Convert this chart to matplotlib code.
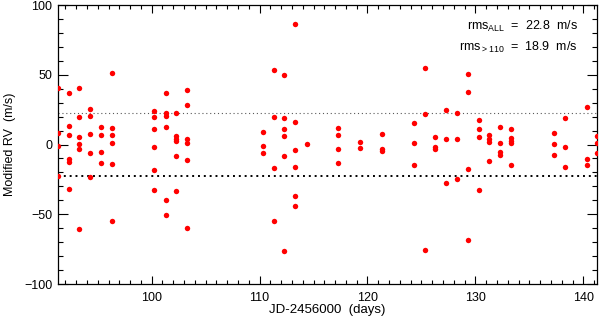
import matplotlib
matplotlib.use("Agg")
import matplotlib.pyplot as plt
from matplotlib.ticker import MultipleLocator

plt.rcParams['font.family'] = ['Liberation Sans', 'DejaVu Sans']

# nights (JD-2456000) and modified RV values (m/s)
nights = [91.35, 92.3, 93.3, 94.3, 95.3, 96.3, 100.2, 101.3, 102.3, 103.3,
          110.3, 111.3, 112.3, 113.3, 114.35, 117.3, 119.3, 121.3, 124.3, 125.3,
          126.3, 127.3, 128.3, 129.3, 130.3, 131.3, 132.3, 133.3, 137.3, 138.3,
          140.3, 141.3]
rv_per_night = [
    [40.3, 8.5, -0.9, -22.3],
    [36.7, 13.5, 6.6, -10.2, -12.8, -31.7],
    [40.5, 19.5, 5.6, 0.6, -3.5, -60.6],
    [25.7, 20.7, 7.5, -6.3, -23.1],
    [12.8, 6.8, -5.4, -13.3],
    [51.0, 11.8, 6.8, 1.3, -14.2, -54.6],
    [24.2, 19.9, 10.9, -2.0, -18.0, -32.4],
    [36.7, 22.4, 20.4, 12.5, -39.6, -50.5],
    [22.8, 6.1, 4.2, 2.5, -8.0, -33.3],
    [39.1, 28.1, 3.7, 1.3, -11.1, -59.6],
    [8.7, -1.3, -6.3],
    [53.6, 19.5, -16.8, -54.8],
    [50.1, 19.2, 11.1, 6.3, -8.0, -76.3],
    [86.6, 16.1, -3.9, -15.9, -36.9, -44.1],
    [0.6],
    [11.8, 6.8, -3.2, -13.5],
    [1.8, -2.3],
    [7.7, -3.0, -4.7],
    [15.2, 1.1, -14.7],
    [54.8, 21.9, -75.6],
    [5.6, -1.6, -3.2],
    [24.7, 3.7, -27.4],
    [22.4, 3.7, -25.0],
    [50.8, 37.6, -17.8, -68.7],
    [17.6, 11.3, 5.4, -32.8],
    [7.0, 4.2, 2.0, -11.8],
    [12.8, 1.3, -5.4, -7.3],
    [11.1, 4.7, 2.3, 0.9, -14.7],
    [8.2, 0.6, -7.7],
    [19.0, -1.6, -16.3],
    [26.7, -10.6, -14.4],
    [6.1, 0.9, -5.9],
]
rms_all = 22.8
rms_late = 18.9

t = [n for n, vals in zip(nights, rv_per_night) for _ in vals]
rv = [v for vals in rv_per_night for v in vals]

fig = plt.figure(figsize=(6.0, 3.19), dpi=100)
ax = fig.add_axes([0.0967, 0.1097, 0.8983, 0.8743])

ax.plot(t, rv, 'o', color='#ff0000', markersize=3.9, markeredgewidth=0, zorder=3)

ax.axhline(rms_all, color='0.35', linestyle=(0, (1, 2.5)), linewidth=0.8, zorder=2)
ax.axhline(-rms_all, color='black', linestyle=(0, (1, 2)), linewidth=1.4, zorder=2)

ax.set_xlim(91.32, 141.27)
ax.set_ylim(-100, 100)
ax.xaxis.set_major_locator(MultipleLocator(10))
ax.xaxis.set_minor_locator(MultipleLocator(1))
ax.yaxis.set_major_locator(MultipleLocator(50))
ax.yaxis.set_minor_locator(MultipleLocator(10))
ax.tick_params(which='both', direction='in', top=True, right=True, labelsize=9, width=0.8)
ax.tick_params(which='major', axis='x', length=6)
ax.tick_params(which='minor', axis='x', length=3)
ax.tick_params(which='major', axis='y', length=7.5)
ax.tick_params(which='minor', axis='y', length=3.5)
ax.tick_params(axis='x', pad=5.5)
ax.tick_params(axis='y', pad=4)
for s in ax.spines.values():
    s.set_linewidth(0.9)

ax.set_xlabel('JD-2456000  (days)', fontsize=9.5, labelpad=0)
ax.set_ylabel('Modified RV  (m/s)', fontsize=9, labelpad=6)

ax.text(0.965, 0.922, r'rms$_{\mathregular{ALL}}$  =  %.1f  m/s' % rms_all, transform=ax.transAxes,
        ha='right', va='center', fontsize=9)
ax.text(0.965, 0.847, r'rms$_{\mathregular{>110}}$  =  %.1f  m/s' % rms_late, transform=ax.transAxes,
        ha='right', va='center', fontsize=9)

fig.savefig('out.png', dpi=100)
